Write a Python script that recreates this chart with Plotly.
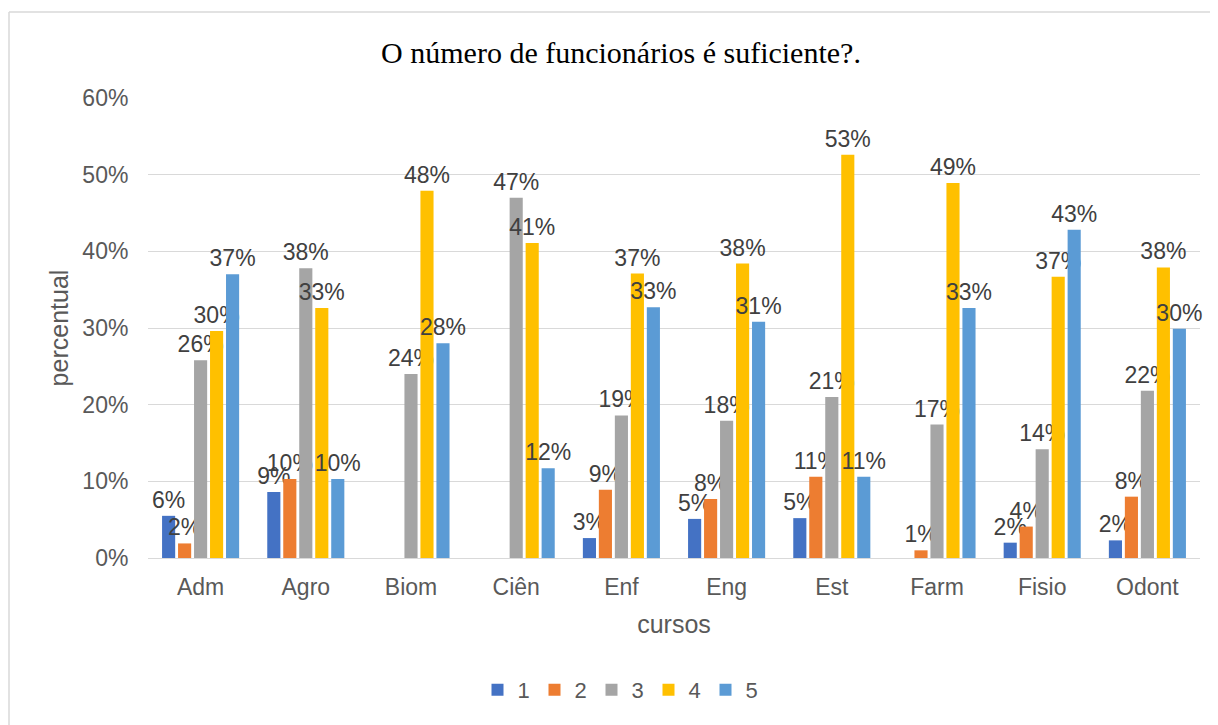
import plotly.graph_objects as go

categories = ["Adm", "Agro", "Biom", "Ciên", "Enf", "Eng", "Est", "Farm", "Fisio", "Odont"]
series_names = ["1", "2", "3", "4", "5"]
s1 = [5.5, 8.6, None, None, 2.6, 5.1, 5.2, None, 2.0, 2.3]
s2 = [1.9, 10.3, None, None, 8.9, 7.7, 10.6, 1.0, 4.1, 8.0]
s3 = [25.8, 37.8, 24.0, 47.0, 18.6, 17.9, 21.0, 17.4, 14.2, 21.8]
s4 = [29.6, 32.6, 47.9, 41.1, 37.1, 38.4, 52.6, 48.9, 36.7, 37.9]
s5 = [37.0, 10.3, 28.0, 11.7, 32.7, 30.8, 10.6, 32.6, 42.8, 29.9]
colors = ["#4472C4", "#ED7D31", "#A5A5A5", "#FFC000", "#5B9BD5"]
yticks = [0, 10, 20, 30, 40, 50, 60]

# page body has an 8px margin, so figure coords = reference coords - 8
W, H = 1210, 717
L, R, T, B = 140, 18, 90, 167

fig = go.Figure()
for name, vals, c in zip(series_names, [s1, s2, s3, s4, s5], colors):
    fig.add_trace(go.Bar(
        x=categories, y=vals, name=name, marker_color=c, marker_line_width=0,
        text=[(f"{round(v):.0f}%" if v else "") for v in vals],
        textposition="outside", constraintext="none", cliponaxis=False,
        textfont=dict(family="Liberation Sans, Arial", size=23, color="#404040"),
    ))

pw = W - L - R
ph = H - T - B
fig.update_layout(
    width=W, height=H,
    margin=dict(l=L, r=R, t=T, b=B),
    paper_bgcolor="white", plot_bgcolor="white",
    barmode="group", bargap=0.24, bargroupgap=0.18,
    title=dict(text="O número de funcionários é suficiente?.", x=(621 - 8) / W, xanchor="center",
               y=1 - 44 / H, yanchor="middle",
               font=dict(family="Liberation Serif, Times New Roman", size=30, color="black")),
    font=dict(family="Liberation Sans, Arial", color="#595959"),
    xaxis=dict(title=dict(text="cursos", font=dict(size=25, color="#595959"), standoff=16),
               tickfont=dict(size=23, color="#595959"), showgrid=False,
               showline=True, linecolor="#D9D9D9", linewidth=1,
               ticks="outside", ticklen=8, tickcolor="rgba(0,0,0,0)"),
    yaxis=dict(title=dict(text="percentual", font=dict(size=25, color="#595959"), standoff=6),
               range=[0, 60], tickvals=yticks, ticktext=[f"{v}%" for v in yticks],
               tickfont=dict(size=23, color="#595959"), showgrid=True, gridcolor="#D9D9D9",
               gridwidth=1, zeroline=False, showline=False, ticks="outside", ticklen=14,
               tickcolor="rgba(0,0,0,0)"),
    legend=dict(orientation="h", x=(612 - L) / pw, xanchor="center", y=-(690 - 558) / ph,
                yanchor="middle", font=dict(size=22, color="#595959"), traceorder="normal",
                itemwidth=30, entrywidth=12, entrywidthmode="pixels"),
    showlegend=True,
)
# chart-area border (left and top visible)
x0 = (1 - L) / pw
y0 = 1 + (T - 4) / ph
fig.add_shape(type="line", xref="paper", yref="paper", x0=x0, x1=x0, y0=y0, y1=-B / ph - 0.05,
              line=dict(color="#D9D9D9", width=1.5))
fig.add_shape(type="line", xref="paper", yref="paper", x0=x0, x1=1 + R / pw + 0.05, y0=y0, y1=y0,
              line=dict(color="#D9D9D9", width=1.5))

fig.write_html("out.html")
